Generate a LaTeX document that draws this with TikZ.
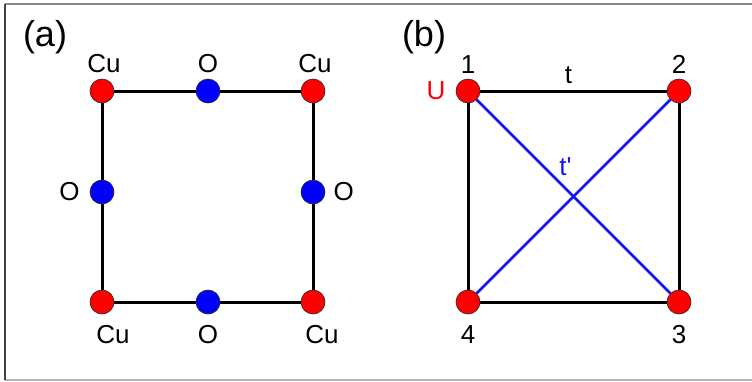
\documentclass[tikz,border=0pt]{standalone}
\usepackage{fontspec}
\setmainfont{Liberation Sans}
\usepackage{xcolor}
\definecolor{cured}{HTML}{FF0000}
\definecolor{oblue}{HTML}{0000FF}
\definecolor{hopblue}{HTML}{1414F0}
\definecolor{framedark}{HTML}{404040}
\definecolor{framegray}{HTML}{8A8A8A}
\definecolor{framelight}{HTML}{B4B4B4}
\usetikzlibrary{positioning, calc}

\begin{document}
\begin{tikzpicture}[
    x=1pt, y=-1pt,
    font=\fontsize{26}{30}\selectfont,
    cusite/.style={
        circle, fill=cured, draw=black!85, line width=0.6pt,
        minimum size=24pt, inner sep=0pt,
    },
    osite/.style={
        circle, fill=oblue, draw=black!85, line width=0.6pt,
        minimum size=24pt, inner sep=0pt,
    },
    bond/.style={black, line width=3pt},
    hop/.style={hopblue, line width=2.7pt},
    sitelabel/.style={inner sep=2pt},
    panellabel/.style={font=\fontsize{36}{40}\selectfont},
]
\useasboundingbox (0,0) rectangle (752,381);

% -- Frame --
\coordinate (ftl) at (5,4);
\coordinate (fbl) at (5,380);
\coordinate (ftr) at (752,4);
\coordinate (fbr) at (752,380);
\draw[framegray, line width=1.5pt] (ftl) -- (ftr);
\draw[framelight, line width=1.5pt] (fbl) -- (fbr);
\draw[framedark, line width=1.5pt] (ftl) -- (fbl);

% -- Panel (a): CuO plaquette --
\node[panellabel] (pa) at (45,37) {(a)};

\node[cusite] (cu1) at (102,91) {};
\node[osite]  (o12) at (208,91) {};
\node[cusite] (cu2) at (313,91) {};
\node[osite]  (o23) at (313,192) {};
\node[cusite] (cu3) at (313,302) {};
\node[osite]  (o34) at (208,302) {};
\node[cusite] (cu4) at (102,302) {};
\node[osite]  (o41) at (102,192) {};

\draw[bond] (cu1) -- (o12);
\draw[bond] (o12) -- (cu2);
\draw[bond] (cu2) -- (o23);
\draw[bond] (o23) -- (cu3);
\draw[bond] (cu3) -- (o34);
\draw[bond] (o34) -- (cu4);
\draw[bond] (cu4) -- (o41);
\draw[bond] (o41) -- (cu1);

\node[sitelabel, above=3.5pt of cu1, xshift=2pt] (lcu1) {Cu};
\node[sitelabel, above=3.5pt of o12] (lo12) {O};
\node[sitelabel, above=3.5pt of cu2, xshift=2pt] (lcu2) {Cu};
\node[sitelabel, right=6pt of o23] (lo23) {O};
\node[sitelabel, below=8.5pt of cu3, xshift=9pt] (lcu3) {Cu};
\node[sitelabel, below=8.5pt of o34] (lo34) {O};
\node[sitelabel, below=8.5pt of cu4, xshift=11pt] (lcu4) {Cu};
\node[sitelabel, left=8pt of o41] (lo41) {O};

% -- Panel (b): four-site cluster --
\node[panellabel] (pb) at (424,37) {(b)};

\node[cusite] (n1) at (468,91) {};
\node[cusite] (n2) at (679,91) {};
\node[cusite] (n3) at (679,302) {};
\node[cusite] (n4) at (468,302) {};

\draw[hop] (n1) -- node[sitelabel, pos=0.41, anchor=south west, text=hopblue] (ltp) {t\textquotesingle} (n3);
\draw[hop] (n2) -- (n4);
\draw[bond] (n1) -- node[sitelabel, above=4pt, xshift=-5pt] (lt) {t} (n2);
\draw[bond] (n2) -- (n3);
\draw[bond] (n3) -- (n4);
\draw[bond] (n4) -- (n1);

\node[sitelabel, above=3.5pt of n1] (l1) {1};
\node[sitelabel, above=3.5pt of n2] (l2) {2};
\node[sitelabel, below=9pt of n3] (l3) {3};
\node[sitelabel, below=9pt of n4] (l4) {4};
\node[sitelabel, left=8pt of n1, text=cured] (lu) {U};

\end{tikzpicture}
\end{document}
